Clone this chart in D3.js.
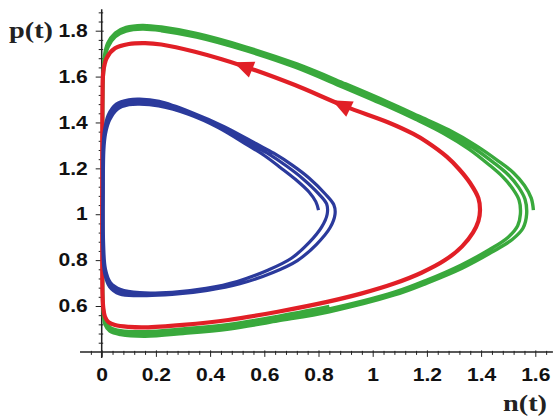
<!DOCTYPE html>
<html>
<head>
<meta charset="utf-8">
<script src="https://cdn.jsdelivr.net/npm/d3@7"></script>
<style>
	body { margin: 0; background: #fff; }
	svg { display: block; background: #fff; }
	.tick text { font-family: "Liberation Sans", Arial, sans-serif; font-weight: bold; font-size: 18px; fill: #111; }
	.axis-label { font-family: "Liberation Serif", "Times New Roman", serif; font-weight: bold; font-size: 24px; fill: #222; }
</style>
</head>
<body>
<div id="chart"></div>
<script>
// Tick labels
const xTicks = [0, 0.2, 0.4, 0.6, 0.8, 1, 1.2, 1.4, 1.6];
const yTicks = [0.6, 0.8, 1, 1.2, 1.4, 1.6, 1.8];

// Trajectories as [n, p] pairs.
// Blue starts at (0.80, 1.02) and drifts outward over three turns.
const blueOrbit = [
	[0.800, 1.018], [0.790, 1.055], [0.765, 1.097], [0.717, 1.150], [0.660, 1.203], [0.600, 1.256],
	[0.540, 1.300], [0.430, 1.378], [0.320, 1.436], [0.210, 1.472], [0.140, 1.480], [0.100, 1.477],
	[0.058, 1.458], [0.029, 1.410], [0.014, 1.350], [0.008, 1.280], [0.006, 1.100], [0.007, 0.870],
	[0.014, 0.760], [0.032, 0.703], [0.070, 0.672], [0.140, 0.658], [0.260, 0.660],
	[0.385, 0.677], [0.500, 0.707], [0.615, 0.757], [0.700, 0.808], [0.765, 0.876], [0.812, 0.945], [0.832, 1.000],
	[0.830, 1.045], [0.800, 1.090], [0.742, 1.155], [0.682, 1.210], [0.617, 1.262], [0.555, 1.303],
	[0.440, 1.380], [0.325, 1.440], [0.210, 1.482], [0.140, 1.491], [0.100, 1.488], [0.056, 1.468],
	[0.026, 1.420], [0.012, 1.360], [0.007, 1.285], [0.005, 1.100], [0.005, 0.865], [0.012, 0.750],
	[0.030, 0.692], [0.068, 0.660], [0.140, 0.646], [0.260, 0.650],
	[0.390, 0.668], [0.510, 0.697], [0.632, 0.746], [0.722, 0.798], [0.792, 0.868], [0.843, 0.942], [0.861, 1.000],
	[0.857, 1.040], [0.825, 1.088], [0.765, 1.158], [0.703, 1.214], [0.635, 1.266], [0.572, 1.306],
	[0.452, 1.382], [0.332, 1.444], [0.212, 1.492], [0.140, 1.502], [0.100, 1.499], [0.054, 1.480],
	[0.024, 1.432], [0.011, 1.370], [0.005, 1.290], [0.004, 1.100], [0.004, 0.860], [0.011, 0.742],
	[0.029, 0.684], [0.066, 0.652], [0.140, 0.646]
];

// Red is a single closed orbit
const redOrbit = [
	[1.396, 1.018], [1.390, 1.070], [1.360, 1.135], [1.320, 1.195], [1.273, 1.251], [1.200, 1.315],
	[1.150, 1.350], [1.058, 1.400], [0.898, 1.470], [0.713, 1.563], [0.529, 1.643], [0.344, 1.708],
	[0.220, 1.740], [0.160, 1.746], [0.100, 1.742], [0.049, 1.723], [0.018, 1.680], [0.006, 1.621],
	[0.003, 1.500], [0.002, 1.200], [0.002, 0.800], [0.003, 0.650], [0.006, 0.590], [0.012, 0.553],
	[0.025, 0.530], [0.049, 0.517], [0.100, 0.509], [0.160, 0.507], [0.300, 0.518], [0.467, 0.539],
	[0.650, 0.575], [0.836, 0.619], [0.960, 0.655], [1.082, 0.699], [1.180, 0.745], [1.267, 0.800],
	[1.330, 0.860], [1.370, 0.920], [1.390, 0.970]
];

// Green starts at (1.59, 1.02) and drifts inward
const greenOrbit = [
	[1.593, 1.018], [1.585, 1.070], [1.560, 1.125], [1.520, 1.180], [1.460, 1.235], [1.380, 1.300],
	[1.280, 1.368], [1.170, 1.428], [1.060, 1.487], [0.900, 1.568], [0.720, 1.655], [0.530, 1.730],
	[0.350, 1.788], [0.220, 1.816], [0.150, 1.823], [0.090, 1.814], [0.050, 1.790], [0.022, 1.745],
	[0.010, 1.690], [0.005, 1.600], [0.003, 1.200], [0.003, 0.700], [0.005, 0.580], [0.012, 0.520],
	[0.030, 0.490], [0.070, 0.475], [0.160, 0.468], [0.300, 0.480], [0.470, 0.500], [0.650, 0.535],
	[0.840, 0.575], [1.080, 0.648], [1.200, 0.700], [1.330, 0.765], [1.440, 0.835], [1.515, 0.890],
	[1.555, 0.940], [1.568, 1.000],
	[1.562, 1.065], [1.538, 1.118], [1.500, 1.172], [1.445, 1.226], [1.368, 1.292], [1.272, 1.360],
	[1.165, 1.421], [1.055, 1.480], [0.895, 1.561], [0.717, 1.648], [0.530, 1.722], [0.350, 1.780],
	[0.220, 1.808], [0.150, 1.815], [0.090, 1.806], [0.050, 1.782], [0.023, 1.737], [0.011, 1.685],
	[0.005, 1.600], [0.003, 1.200], [0.003, 0.700], [0.005, 0.585], [0.013, 0.528], [0.031, 0.498],
	[0.070, 0.484], [0.160, 0.478], [0.300, 0.490], [0.470, 0.510], [0.650, 0.545], [0.840, 0.587],
	[1.080, 0.660], [1.200, 0.713], [1.325, 0.778], [1.430, 0.845], [1.500, 0.900], [1.535, 0.950],
	[1.545, 1.000],
	[1.540, 1.062], [1.516, 1.112], [1.480, 1.163], [1.428, 1.217], [1.355, 1.284], [1.262, 1.352],
	[1.158, 1.414], [1.050, 1.473], [0.890, 1.554], [0.714, 1.641], [0.530, 1.714], [0.350, 1.772],
	[0.220, 1.800], [0.150, 1.807], [0.090, 1.798], [0.050, 1.774], [0.024, 1.730], [0.012, 1.680],
	[0.006, 1.600], [0.004, 1.200], [0.004, 0.700], [0.006, 0.590], [0.014, 0.536], [0.032, 0.506],
	[0.070, 0.492], [0.160, 0.488], [0.300, 0.500], [0.470, 0.520], [0.650, 0.555], [0.840, 0.598]
];

// Direction arrows on the red orbit: base point and the point they aim at
const arrowBase = [[0.555, 1.630], [0.916, 1.458]];
const arrowTip = [[0.492, 1.660], [0.861, 1.490]];

// Where the axes cross and how far they run
const xAxisAtP = 0.4;
const xAxisExtent = [-0.08, 1.665];
const yAxisExtent = [0.373, 1.894];

function stretch(sel, k) {
	// the source image is a bit wider than the fonts, so widen the glyphs
	sel.each(function() {
		const w = this.getComputedTextLength();
		d3.select(this).attr('textLength', w * k).attr('lengthAdjust', 'spacingAndGlyphs');
	});
}

function drawPhase(container) {
	const width = 554, height = 419;

	const svg = d3.select(container)
		.append('svg')
			.attr('width', width)
			.attr('height', height);

	const x = d3.scaleLinear()
		.domain([0, 1.6])
		.range([101.7, 535.3]);

	const y = d3.scaleLinear()
		.domain([0.6, 1.8])
		.range([306, 30.7]);

	const x0 = x(0), yBase = y(xAxisAtP);

	// Minor ticks every 0.04
	const xMinor = d3.range(-0.04, 1.66, 0.04).filter(v => Math.abs(v * 5 - Math.round(v * 5)) > 1e-6);
	const yMinor = d3.range(0.4, 1.89, 0.04).filter(v => Math.abs(v * 5 - Math.round(v * 5)) > 1e-6);

	// X axis
	svg.append('line')
		.attr('x1', x(xAxisExtent[0])).attr('x2', x(xAxisExtent[1]))
		.attr('y1', yBase).attr('y2', yBase)
		.style('stroke', '#222').style('stroke-width', 1.5);

	const gxMinor = svg.append('g')
		.attr('transform', `translate(0,${yBase})`)
		.call(d3.axisBottom(x).tickValues(xMinor).tickSize(3).tickFormat(''));
	const gx = svg.append('g')
		.attr('transform', `translate(0,${yBase})`)
		.call(d3.axisBottom(x).tickValues(xTicks).tickSize(5).tickPadding(11).tickFormat(d3.format('')));

	// Y axis
	svg.append('line')
		.attr('x1', x0).attr('x2', x0)
		.attr('y1', y(yAxisExtent[0])).attr('y2', y(yAxisExtent[1]))
		.style('stroke', '#222').style('stroke-width', 1.5);

	const gyMinor = svg.append('g')
		.attr('transform', `translate(${x0},0)`)
		.call(d3.axisLeft(y).tickValues(yMinor).tickSize(3).tickFormat(''));
	const gy = svg.append('g')
		.attr('transform', `translate(${x0},0)`)
		.call(d3.axisLeft(y).tickValues(yTicks).tickSize(6).tickPadding(8).tickFormat(d3.format('')));

	[gx, gxMinor, gy, gyMinor].forEach(g => {
		g.select('.domain').remove();
		g.selectAll('.tick line').style('stroke', '#222');
	});
	// ticks poke through the axis a little
	gy.selectAll('.tick line').attr('x1', 2);
	gyMinor.selectAll('.tick line').attr('x1', 1.5);
	gx.selectAll('.tick line').attr('y1', -1.5);
	gxMinor.selectAll('.tick line').attr('y1', -1);

	stretch(gx.selectAll('.tick text'), 1.17);
	stretch(gy.selectAll('.tick text'), 1.17);

	// Axis titles
	const pLabel = svg.append('text')
		.classed('axis-label', true)
		.attr('x', 9)
		.attr('y', 37.5)
		.text('p(t)');
	stretch(pLabel, 1.18);

	const nLabel = svg.append('text')
		.classed('axis-label', true)
		.attr('x', 503)
		.attr('y', 410.5)
		.text('n(t)');
	stretch(nLabel, 1.18);

	// Orbits
	const openLine = d3.line()
		.x(d => x(d[0]))
		.y(d => y(d[1]))
		.curve(d3.curveCatmullRom.alpha(0.5));

	const closedLine = d3.line()
		.x(d => x(d[0]))
		.y(d => y(d[1]))
		.curve(d3.curveCatmullRomClosed.alpha(0.5));

	svg.append('path')
		.attr('d', openLine(greenOrbit))
		.style('fill', 'none')
		.style('stroke', '#39a93c')
		.style('stroke-width', 3.4)
		.style('stroke-linejoin', 'round');

	svg.append('path')
		.attr('d', closedLine(redOrbit))
		.style('fill', 'none')
		.style('stroke', '#e11f26')
		.style('stroke-width', 4.2)
		.style('stroke-linejoin', 'round');

	svg.append('path')
		.attr('d', openLine(blueOrbit))
		.style('fill', 'none')
		.style('stroke', '#2b3a9c')
		.style('stroke-width', 3.2)
		.style('stroke-linejoin', 'round');

	// Arrowheads
	svg.selectAll('.arrow')
		.data(arrowBase)
		.enter()
		.append('path')
			.classed('arrow', true)
			.attr('d', 'M20,0L0,-8.5L0,8.5Z')
			.attr('transform', (d, i) => {
				const t = arrowTip[i];
				const ang = Math.atan2(y(t[1]) - y(d[1]), x(t[0]) - x(d[0])) * 180 / Math.PI;
				return `translate(${x(d[0])},${y(d[1])}) rotate(${ang})`;
			})
			.style('fill', '#e11f26');
}

window.onload = function() {
	drawPhase('#chart');
};
</script>
</body>
</html>
